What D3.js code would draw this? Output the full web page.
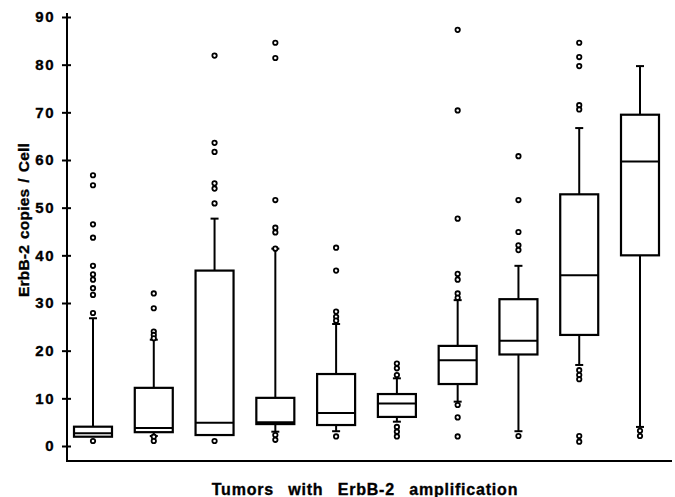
<!DOCTYPE html>
<html>
<head>
<meta charset="utf-8">
<script src="https://cdn.jsdelivr.net/npm/d3@7"></script>
<style>
  body { margin: 0; background: #fff; }
  #chart { width: 675px; height: 497px; }
  text { font-family: "Liberation Sans", Arial, sans-serif; font-weight: bold; fill: #000; stroke: #000; stroke-width: 0.35px; }
</style>
</head>
<body>
<div id="chart"></div>
<script>
// ten tumour groups, unlabeled in the original
const categories = ["1", "2", "3", "4", "5", "6", "7", "8", "9", "10"];
const q1 =        [1.95, 2.9, 2.3, 4.6, 4.4, 6.1, 13.0, 19.2, 23.3, 40.0];
const median =    [2.7, 3.8, 4.9, 5.0, 6.9, 8.9, 18.0, 22.1, 35.8, 59.7];
const q3 =        [4.05, 12.2, 36.8, 10.1, 15.1, 10.9, 21.0, 30.8, 52.8, 69.5];
const whiskerLo = [1.95, 2.1, 2.3, 3.0, 3.1, 5.1, 9.3, 3.1, 17.0, 4.0];
const whiskerHi = [26.8, 22.3, 47.7, 41.4, 25.6, 14.2, 30.6, 37.8, 66.7, 79.7];
const outliers = [
  [56.8, 54.7, 46.5, 43.7, 37.8, 36.0, 34.9, 33.1, 31.7, 27.9, 1.05],
  [32.0, 28.9, 24.0, 23.3, 22.6, 1.95, 1.05],
  [81.9, 63.6, 61.7, 55.1, 54.0, 50.9, 1.05],
  [84.6, 81.4, 51.6, 45.8, 44.8, 41.4, 2.3, 1.3],
  [41.6, 36.8, 28.2, 27.1, 26.3, 2.0],
  [17.3, 16.3, 14.9, 4.0, 3.0, 2.0],
  [87.3, 70.4, 47.7, 36.1, 34.9, 32.0, 31.1, 8.6, 6.0, 2.0],
  [60.8, 51.6, 44.9, 42.1, 41.1, 2.1],
  [84.6, 81.6, 79.7, 71.5, 70.6, 15.9, 14.9, 14.0, 2.1, 0.9],
  [3.2, 2.1]
];
const yTicks = [0, 10, 20, 30, 40, 50, 60, 70, 80, 90];

const boxes = categories.map((c, i) => ({
  cat: c, q1: q1[i], median: median[i], q3: q3[i],
  lo: whiskerLo[i], hi: whiskerHi[i], out: outliers[i]
}));

const W = 675, H = 497;
const svg = d3.select("#chart").append("svg")
  .attr("width", W).attr("height", H);

const x = d3.scalePoint()
  .domain(categories)
  .range([93, 640]);

const y = d3.scaleLinear()
  .domain([0, 90])
  .range([446, 17]);

const axisX = 67, baseY = 461;
const boxW = 38, capW = 8;

// y axis
svg.append("line")
  .attr("x1", axisX).attr("x2", axisX)
  .attr("y1", 13).attr("y2", baseY)
  .attr("stroke", "#000").attr("stroke-width", 2);

const yAxis = svg.append("g")
  .attr("transform", `translate(${axisX},0)`)
  .call(d3.axisLeft(y).tickValues(yTicks).tickSize(5).tickPadding(7));
yAxis.select(".domain").remove();
yAxis.selectAll(".tick line")
  .attr("x1", -5).attr("x2", 4)
  .attr("stroke", "#000").attr("stroke-width", 2);
yAxis.selectAll(".tick text")
  .style("font-family", "'Liberation Sans', Arial, sans-serif")
  .style("font-weight", "bold")
  .style("font-size", "15px")
  .style("letter-spacing", "1.5px")
  .attr("fill", "#000");

// x axis baseline
svg.append("line")
  .attr("x1", axisX - 1).attr("x2", 672)
  .attr("y1", baseY).attr("y2", baseY)
  .attr("stroke", "#000").attr("stroke-width", 2);

const g = svg.selectAll(".box")
  .data(boxes)
  .enter()
  .append("g")
  .attr("class", "box")
  .attr("transform", d => `translate(${x(d.cat)},0)`);

// whiskers
g.append("line")
  .attr("x1", 0).attr("x2", 0)
  .attr("y1", d => y(d.q3)).attr("y2", d => y(d.hi))
  .attr("stroke", "#000").attr("stroke-width", 2);
g.append("line")
  .attr("x1", 0).attr("x2", 0)
  .attr("y1", d => y(d.q1)).attr("y2", d => y(d.lo))
  .attr("stroke", "#000").attr("stroke-width", 2);
g.append("line")
  .attr("x1", -capW / 2).attr("x2", capW / 2)
  .attr("y1", d => y(d.hi)).attr("y2", d => y(d.hi))
  .attr("stroke", "#000").attr("stroke-width", 2);
g.filter(d => d.lo < d.q1).append("line")
  .attr("x1", -capW / 2).attr("x2", capW / 2)
  .attr("y1", d => y(d.lo)).attr("y2", d => y(d.lo))
  .attr("stroke", "#000").attr("stroke-width", 2);

// boxes
g.append("rect")
  .attr("x", -boxW / 2)
  .attr("y", d => y(d.q3))
  .attr("width", boxW)
  .attr("height", d => y(d.q1) - y(d.q3))
  .attr("fill", "#fff")
  .attr("stroke", "#000")
  .attr("stroke-width", 2.2);

g.append("line")
  .attr("x1", -boxW / 2).attr("x2", boxW / 2)
  .attr("y1", d => y(d.median)).attr("y2", d => y(d.median))
  .attr("stroke", "#000").attr("stroke-width", 2);

// outliers
g.selectAll(".dot")
  .data(d => d.out)
  .enter()
  .append("circle")
  .attr("class", "dot")
  .attr("cx", 0)
  .attr("cy", d => y(d))
  .attr("r", 2.2)
  .attr("fill", "#fff")
  .attr("stroke", "#000")
  .attr("stroke-width", 1.8);

// axis titles
svg.append("text")
  .attr("transform", "rotate(-90)")
  .attr("x", -220)
  .attr("y", 29)
  .attr("text-anchor", "middle")
  .style("font-size", "15.5px")
  .style("letter-spacing", "0.2px")
  .style("word-spacing", "1.5px")
  .text("ErbB-2 copies / Cell");

svg.append("text")
  .attr("x", 365)
  .attr("y", 495)
  .attr("text-anchor", "middle")
  .style("font-size", "16px")
  .style("letter-spacing", "0.8px")
  .style("word-spacing", "9px")
  .text("Tumors with ErbB-2 amplification");
</script>
</body>
</html>
